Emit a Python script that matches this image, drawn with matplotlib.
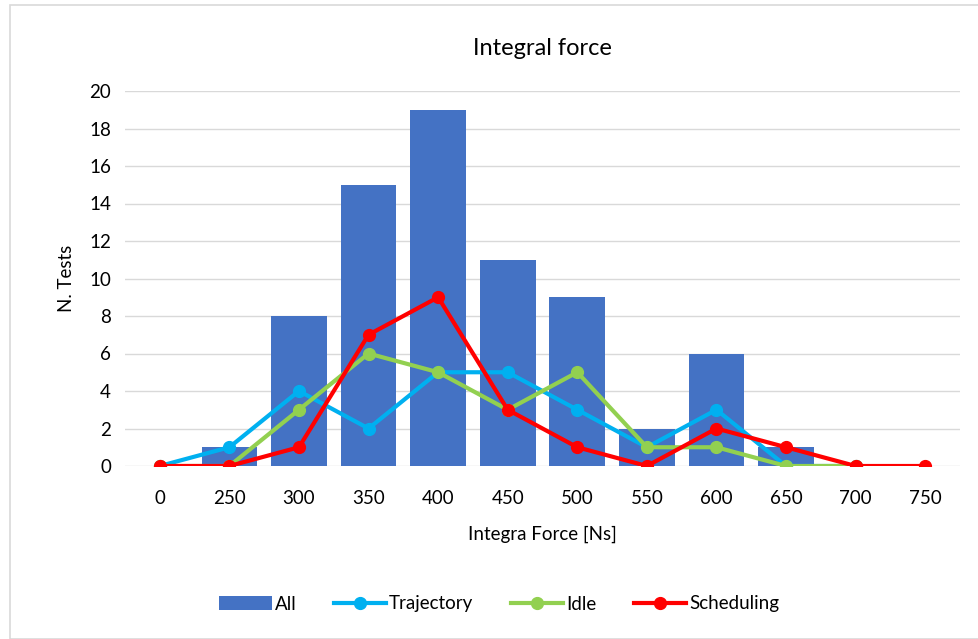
import matplotlib.pyplot as plt
import numpy as np
from matplotlib.patches import Rectangle

plt.rcParams['font.family'] = ['Lato', 'DejaVu Sans']

categories = ['0', '250', '300', '350', '400', '450', '500', '550', '600', '650', '700', '750']
all_tests = [0, 1, 8, 15, 19, 11, 9, 2, 6, 1, 0, 0]
trajectory = [0, 1, 4, 2, 5, 5, 3, 1, 3, 0, 0]
idle = [0, 0, 3, 6, 5, 3, 5, 1, 1, 0, 0]
scheduling = [0, 0, 1, 7, 9, 3, 1, 0, 2, 1, 0, 0]

fig = plt.figure(figsize=(9.79, 6.39), dpi=100)
ax = fig.add_axes([125 / 979, 1 - 466 / 639, 835 / 979, 375 / 639])

# light frame around the whole chart
fig.patches.append(Rectangle((10 / 979, 0.0), 1.0, 1 - 5 / 639, transform=fig.transFigure,
                             fill=False, edgecolor='#D9D9D9', linewidth=1.2))

x = np.arange(len(categories))
bars = ax.bar(x, all_tests, width=0.8, color='#4472C4', label='All', zorder=2)

line_kw = dict(linewidth=3, marker='o', markersize=8.5, zorder=3)
l1, = ax.plot(np.arange(len(trajectory)), trajectory, color='#00B0F0', label='Trajectory', **line_kw)
l2, = ax.plot(np.arange(len(idle)), idle, color='#92D050', label='Idle', **line_kw)
l3, = ax.plot(np.arange(len(scheduling)), scheduling, color='#FF0000', label='Scheduling', **line_kw)

ax.set_xlim(-0.5, len(categories) - 0.5)
ax.set_ylim(0, 20)
ax.set_yticks(range(0, 21, 2))
ax.set_xticks(x)
ax.set_xticklabels(categories)
ax.tick_params(axis='both', length=0, labelsize=13.5, colors='#000000')
ax.tick_params(axis='x', pad=17)
ax.tick_params(axis='y', pad=10)
ax.grid(axis='y', color='#D9D9D9', linewidth=1, zorder=0)
for s in ax.spines.values():
    s.set_visible(False)

ax.set_title('Integral force', fontsize=17, pad=26)
ax.set_xlabel('Integra Force [Ns]', fontsize=13.5, labelpad=14)
ax.set_ylabel('N. Tests', fontsize=13.5, labelpad=10)

fig.legend(handles=[bars, l1, l2, l3], loc='center', bbox_to_anchor=(0.51, 1 - 604 / 639),
           ncol=4, frameon=False, fontsize=13.5, handlelength=2.8, handletextpad=0.15,
           columnspacing=2.0)

fig.savefig('out.png', dpi=100)
